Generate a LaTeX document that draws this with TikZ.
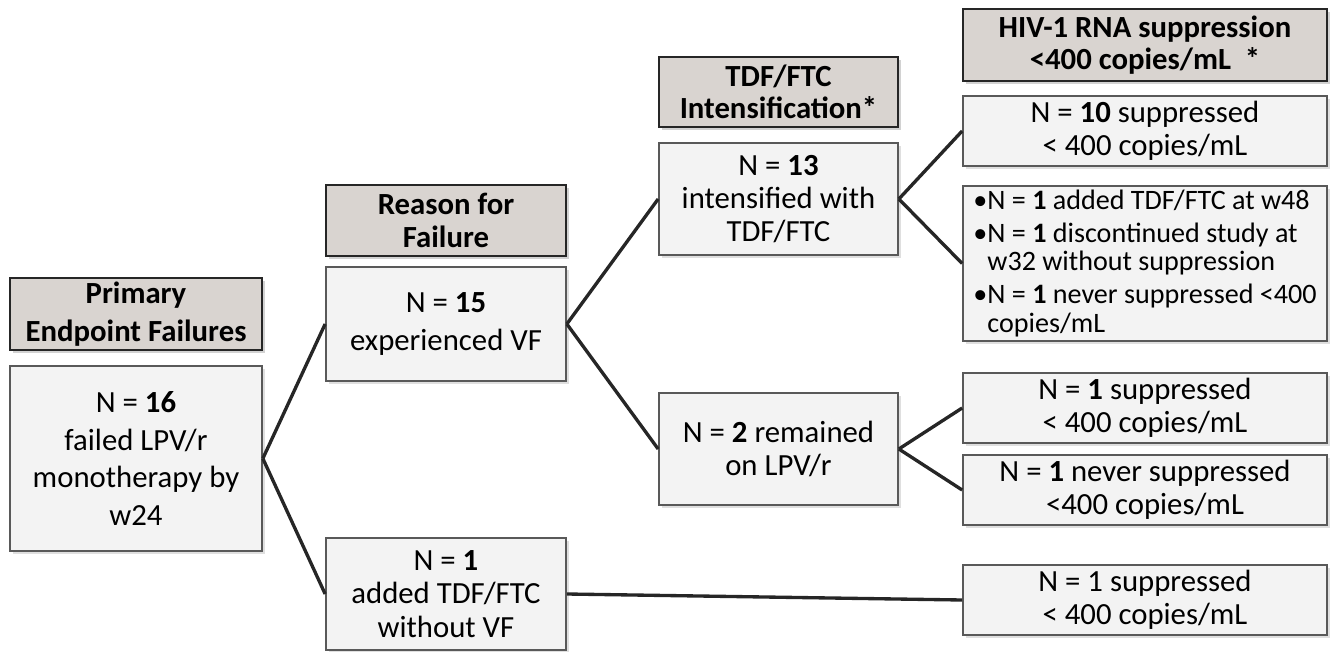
\documentclass[tikz,border=0pt]{standalone}
\usepackage{fontspec}
\setmainfont{Carlito}
\usetikzlibrary{shadows}
\definecolor{headgray}{HTML}{D9D4D0}
\definecolor{boxgray}{HTML}{F3F3F3}
\definecolor{edgegray}{HTML}{595959}

\begin{document}
\begin{tikzpicture}[x=0.02cm,y=-0.02cm,
      thick,
      head/.style={rectangle,draw=black!85,line width=1.3pt,fill=headgray,align=center,inner sep=1pt,
        font=\fontsize{17.5}{18.5}\selectfont\bfseries,
        drop shadow={shadow xshift=1.5pt,shadow yshift=-1.5pt,fill=black!35}},
      info/.style={rectangle,draw=edgegray,line width=1pt,fill=boxgray,align=center,inner sep=1pt,
        font=\fontsize{17.5}{19}\selectfont,
        drop shadow={shadow xshift=1.5pt,shadow yshift=-1.5pt,fill=black!25}},
      link/.style={line width=1.9pt,black!85}]

      \useasboundingbox (0,0) rectangle (1342,652);

      % column headers
      \node[head,minimum width=5.04cm,minimum height=1.44cm,font=\fontsize{17.5}{22}\selectfont\bfseries] (ph) at (136,314) {Primary\\Endpoint Failures};
      \node[head,minimum width=4.8cm,minimum height=1.42cm] (rh) at (446,220.5) {Reason for\\Failure};
      \node[head,minimum width=4.78cm,minimum height=1.4cm] (th) at (778.5,92) {TDF/FTC\\Intensification*};
      \node[head,minimum width=7.28cm,minimum height=1.44cm] (hh) at (1145,45) {HIV-1 RNA suppression\\<400 copies/mL\ \ *};

      % boxes
      \node[info,minimum width=5.04cm,minimum height=3.7cm,font=\fontsize{17.5}{21.5}\selectfont] (n16) at (136,458.5) {N = \textbf{16}\\failed LPV/r\\monotherapy by\\w24};
      \node[info,minimum width=4.8cm,minimum height=2.28cm,font=\fontsize{17.5}{21.5}\selectfont] (n15) at (446,324) {N = \textbf{15}\\experienced VF};
      \node[info,minimum width=4.8cm,minimum height=2.24cm] (nadd) at (446,594) {N = \textbf{1}\\added TDF/FTC\\without VF};
      \node[info,minimum width=4.78cm,minimum height=2.24cm] (n13) at (778.5,199) {N = \textbf{13}\\intensified with\\TDF/FTC};
      \node[info,minimum width=4.78cm,minimum height=2.24cm] (n2) at (778.5,449) {N = \textbf{2} remained\\on LPV/r};
      \node[info,minimum width=7.28cm,minimum height=1.4cm] (n10) at (1145,131) {N = \textbf{10} suppressed\\< 400 copies/mL};
      \node[info,minimum width=7.28cm,minimum height=3.1cm,align=left,font=\fontsize{16}{16.5}\selectfont] (nb) at (1145,263.5)
        {•N = \textbf{1} added TDF/FTC at w48\\[2pt]
         •N = \textbf{1} discontinued study at\\
         \phantom{•}w32 without suppression\\[2pt]
         •N = \textbf{1} never suppressed <400\\
         \phantom{•}copies/mL};
      \node[info,minimum width=7.28cm,minimum height=1.4cm] (s1) at (1145,408) {N = \textbf{1} suppressed\\< 400 copies/mL};
      \node[info,minimum width=7.28cm,minimum height=1.4cm] (s2) at (1145,490) {N = \textbf{1} never suppressed\\<400 copies/mL};
      \node[info,minimum width=7.28cm,minimum height=1.4cm] (s3) at (1145,600) {N = 1 suppressed\\< 400 copies/mL};

      % connectors
      \path[link]
        (n16.east) edge (n15.west)
                   edge (nadd.west)
        (n15.east) edge (n13.west)
                   edge (n2.west)
        (n13.east) edge (n10.west)
                   edge (nb.west)
        (n2.east)  edge (s1.west)
                   edge (s2.west)
        (nadd.east) edge (s3.west);
    \end{tikzpicture}
\end{document}
